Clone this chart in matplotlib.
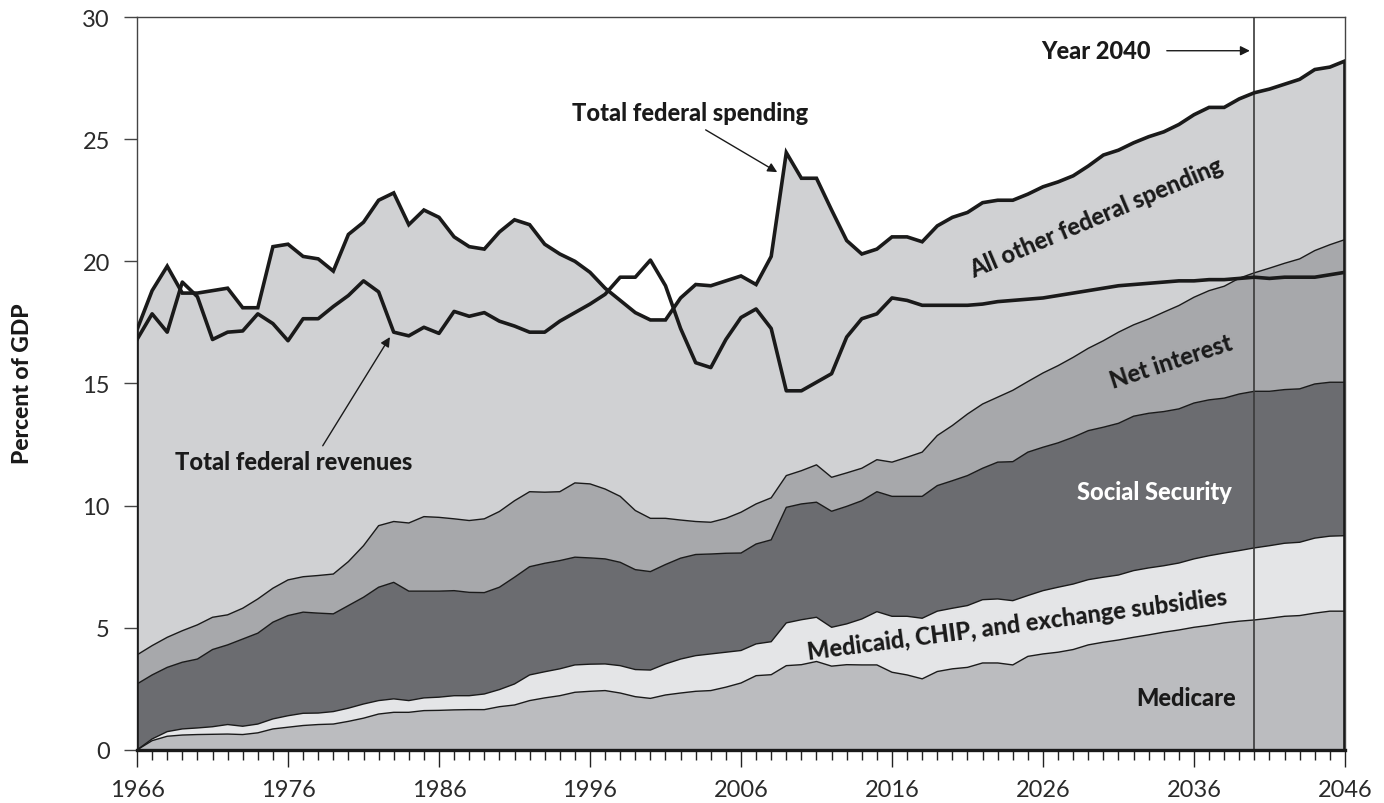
import numpy as np
import matplotlib
matplotlib.use('Agg')
import matplotlib.pyplot as plt
from matplotlib.ticker import MultipleLocator

# Years shown on the chart
years = np.arange(1966, 2047)
year_ticks = list(range(1966, 2047, 10))

# Total federal spending and revenues (percent of GDP)
spending = [17.2, 18.8, 19.8, 18.7, 18.7, 18.8, 18.9, 18.1, 18.1, 20.6,
            20.7, 20.2, 20.1, 19.6, 21.1, 21.6, 22.5, 22.8, 21.5, 22.1,
            21.8, 21.0, 20.6, 20.5, 21.2, 21.7, 21.5, 20.7, 20.3, 20.0,
            19.55, 18.9, 18.4, 17.9, 17.6, 17.6, 18.5, 19.05, 19.0, 19.2,
            19.4, 19.05, 20.2, 24.45, 23.4, 23.4, 22.1, 20.85, 20.3, 20.5,
            21.0, 21.0, 20.8, 21.45, 21.8, 22.0, 22.4, 22.5, 22.5, 22.75,
            23.05, 23.25, 23.5, 23.9, 24.35, 24.55, 24.85, 25.1, 25.3, 25.6,
            26.0, 26.3, 26.3, 26.65, 26.9, 27.05, 27.25, 27.45, 27.85, 27.95, 28.2]

revenues = [16.8, 17.85, 17.1, 19.15, 18.55, 16.8, 17.1, 17.15, 17.85, 17.45,
            16.75, 17.65, 17.65, 18.15, 18.6, 19.2, 18.75, 17.1, 16.95, 17.3,
            17.05, 17.95, 17.75, 17.9, 17.55, 17.35, 17.1, 17.1, 17.55, 17.9,
            18.25, 18.65, 19.35, 19.35, 20.05, 19.0, 17.25, 15.85, 15.65, 16.8,
            17.7, 18.05, 17.25, 14.7, 14.7, 15.05, 15.4, 16.9, 17.65, 17.85,
            18.5, 18.4, 18.2, 18.2, 18.2, 18.2, 18.25, 18.35, 18.4, 18.45,
            18.5, 18.6, 18.7, 18.8, 18.9, 19.0, 19.05, 19.1, 19.15, 19.2,
            19.2, 19.25, 19.25, 19.3, 19.35, 19.3, 19.35, 19.35, 19.35, 19.45, 19.55]

# Stacked layers, read as cumulative upper edges (percent of GDP)
medicare_top = [0.0, 0.38, 0.56, 0.61, 0.63, 0.64, 0.65, 0.63, 0.7, 0.86,
                0.93, 1.0, 1.04, 1.06, 1.17, 1.3, 1.47, 1.54, 1.54, 1.61,
                1.62, 1.64, 1.65, 1.65, 1.77, 1.84, 2.02, 2.13, 2.22, 2.36,
                2.4, 2.43, 2.33, 2.18, 2.11, 2.25, 2.33, 2.4, 2.43, 2.57,
                2.74, 3.04, 3.08, 3.45, 3.49, 3.62, 3.43, 3.49, 3.48, 3.48,
                3.18, 3.07, 2.91, 3.21, 3.32, 3.38, 3.56, 3.56, 3.48, 3.83,
                3.93, 4.0, 4.11, 4.3, 4.41, 4.5, 4.61, 4.71, 4.82, 4.91,
                5.02, 5.1, 5.2, 5.27, 5.32, 5.39, 5.47, 5.5, 5.6, 5.68, 5.68]

medicaid_top = [0.0, 0.45, 0.75, 0.86, 0.9, 0.95, 1.04, 0.97, 1.06, 1.27,
                1.4, 1.5, 1.51, 1.57, 1.71, 1.88, 2.02, 2.09, 2.02, 2.13,
                2.16, 2.22, 2.22, 2.29, 2.47, 2.7, 3.07, 3.2, 3.32, 3.48,
                3.51, 3.52, 3.45, 3.29, 3.27, 3.52, 3.72, 3.86, 3.93, 4.0,
                4.07, 4.34, 4.43, 5.2, 5.33, 5.43, 5.02, 5.16, 5.36, 5.66,
                5.47, 5.47, 5.39, 5.68, 5.8, 5.91, 6.15, 6.18, 6.11, 6.32,
                6.52, 6.66, 6.79, 6.97, 7.07, 7.16, 7.34, 7.45, 7.54, 7.65,
                7.82, 7.95, 8.06, 8.16, 8.27, 8.36, 8.46, 8.5, 8.67, 8.75, 8.77]

social_security_top = [2.7, 3.07, 3.38, 3.59, 3.72, 4.11, 4.3, 4.54, 4.78, 5.23,
                       5.5, 5.64, 5.6, 5.57, 5.91, 6.25, 6.66, 6.86, 6.5, 6.5,
                       6.5, 6.52, 6.45, 6.44, 6.66, 7.07, 7.5, 7.64, 7.75, 7.89,
                       7.86, 7.82, 7.68, 7.38, 7.3, 7.59, 7.85, 8.0, 8.02, 8.05,
                       8.06, 8.43, 8.6, 9.93, 10.07, 10.14, 9.77, 9.97, 10.2, 10.57,
                       10.38, 10.38, 10.38, 10.82, 11.02, 11.23, 11.53, 11.78, 11.8, 12.19,
                       12.39, 12.57, 12.8, 13.07, 13.21, 13.37, 13.66, 13.78, 13.85, 13.96,
                       14.2, 14.33, 14.4, 14.57, 14.68, 14.68, 14.75, 14.78, 14.98, 15.05, 15.05]

net_interest_top = [3.89, 4.27, 4.61, 4.88, 5.12, 5.43, 5.53, 5.8, 6.18, 6.62,
                    6.96, 7.09, 7.14, 7.2, 7.71, 8.36, 9.18, 9.35, 9.29, 9.55,
                    9.52, 9.46, 9.39, 9.46, 9.76, 10.2, 10.57, 10.55, 10.57, 10.93,
                    10.89, 10.68, 10.38, 9.8, 9.48, 9.48, 9.41, 9.35, 9.32, 9.48,
                    9.73, 10.07, 10.32, 11.23, 11.43, 11.67, 11.16, 11.34, 11.53, 11.88,
                    11.78, 11.98, 12.19, 12.87, 13.28, 13.75, 14.16, 14.44, 14.72, 15.08,
                    15.43, 15.73, 16.07, 16.44, 16.75, 17.1, 17.4, 17.64, 17.92, 18.19,
                    18.53, 18.8, 18.98, 19.31, 19.53, 19.72, 19.92, 20.1, 20.44, 20.68, 20.89]

plt.rcParams['font.family'] = ['Lato', 'DejaVu Sans']

fig = plt.figure(figsize=(13.84, 8.04), dpi=100)
ax = fig.add_axes([0.099, 0.066, 0.8728, 0.9116])

zeros = np.zeros(len(years))
layers = [
    (zeros, medicare_top, '#bbbcbf'),
    (medicare_top, medicaid_top, '#e4e5e7'),
    (medicaid_top, social_security_top, '#6b6c70'),
    (social_security_top, net_interest_top, '#a7a8ab'),
    (net_interest_top, spending, '#d0d1d3'),
]
for lower, upper, color in layers:
    ax.fill_between(years, lower, upper, facecolor=color, edgecolor='none', zorder=1)

for edge in [medicare_top, medicaid_top, social_security_top, net_interest_top]:
    ax.plot(years, edge, color='#1a1a1a', lw=1.0, zorder=2)

# 2040 marker
ax.axvline(2040, color='#3a3a3a', lw=1.2, zorder=3)

# total spending outline with vertical ends, and revenues
ax.plot(np.r_[years[0], years, years[-1]], np.r_[0, spending, 0],
        color='#1a1a1a', lw=2.6, zorder=4, solid_joinstyle='miter')
ax.plot(years, revenues, color='#1a1a1a', lw=2.6, zorder=4)

ax.set_xlim(1966, 2046)
ax.set_ylim(0, 30)
ax.set_xticks(year_ticks)
ax.xaxis.set_minor_locator(MultipleLocator(1))
ax.yaxis.set_major_locator(MultipleLocator(5))

ax.tick_params(axis='x', which='major', direction='out', length=12, width=1.0,
               color='#222222', labelsize=17, pad=9, labelcolor='#2a2a2a')
ax.tick_params(axis='x', which='minor', direction='out', length=7, width=1.0, color='#222222')
ax.tick_params(axis='y', which='major', direction='out', length=9.5, width=1.0,
               color='#444444', labelsize=17, pad=10, labelcolor='#2a2a2a')

for side in ['top', 'left', 'right']:
    ax.spines[side].set_color('#444444')
    ax.spines[side].set_linewidth(1.0)
ax.spines['bottom'].set_color('#1a1a1a')
ax.spines['bottom'].set_linewidth(2.4)
ax.spines['bottom'].set_zorder(5)

fig.text(0.016, 0.523, 'Percent of GDP', rotation=90, ha='center', va='center',
         fontsize=16.5, fontweight='black', color='#1a1a1a')

bold = dict(fontweight='black', color='#1a1a1a', fontsize=17)
arrow = dict(arrowstyle='-|>', color='#1a1a1a', lw=1.0, mutation_scale=14, shrinkA=0, shrinkB=0)

ax.annotate('', xy=(2008.4, 23.65), xytext=(2003.66, 25.38), arrowprops=arrow, zorder=6)
ax.text(2002.6, 26.1, 'Total federal spending', ha='center', va='center', **bold)

ax.annotate('', xy=(1982.75, 16.9), xytext=(1978.3, 12.45), arrowprops=arrow, zorder=6)
ax.text(1976.4, 11.8, 'Total federal revenues', ha='center', va='center', **bold)

ax.annotate('', xy=(2039.7, 28.62), xytext=(2034.2, 28.62), arrowprops=arrow, zorder=6)
ax.text(2029.5, 28.62, 'Year 2040', ha='center', va='center', **bold)

ax.text(2029.5, 21.8, 'All other federal spending', ha='center', va='center',
        rotation=23, rotation_mode='anchor', **bold)
ax.text(2034.5, 15.9, 'Net interest', ha='center', va='center',
        rotation=18, rotation_mode='anchor', **bold)
ax.text(2033.4, 10.56, 'Social Security', ha='center', va='center',
        fontweight='black', color='white', fontsize=17)
ax.text(2024.3, 5.16, 'Medicaid, CHIP, and exchange subsidies', ha='center', va='center',
        rotation=7.5, rotation_mode='anchor', **bold)
ax.text(2035.5, 2.13, 'Medicare', ha='center', va='center', **bold)

fig.savefig('out.png', dpi=100)
